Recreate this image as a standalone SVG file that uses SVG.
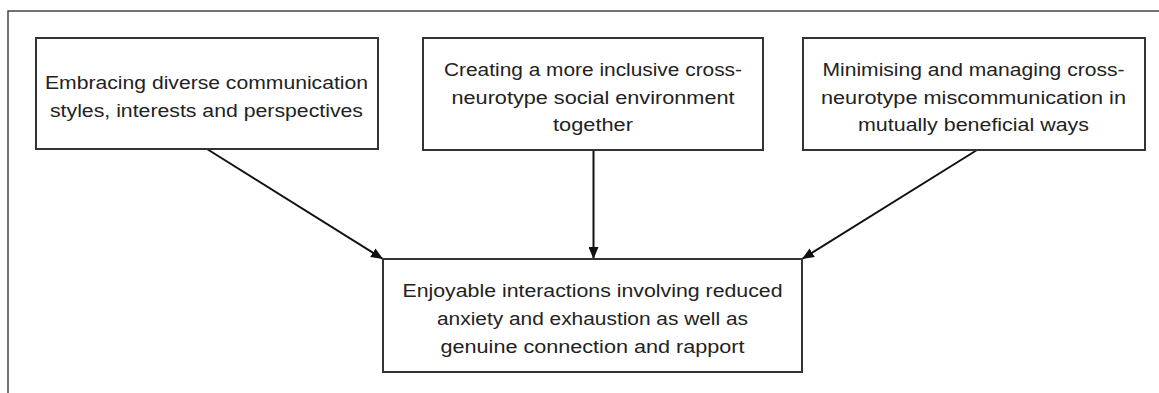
<svg xmlns="http://www.w3.org/2000/svg" width="1159" height="393" viewBox="0 0 1159 393">
<defs>
<style>
.box{fill:#fff;stroke:#333;stroke-width:2}
.t{font-family:"Liberation Sans",Arial,sans-serif;font-size:17.5px;fill:#222;text-anchor:middle}
.c{stroke:#111;stroke-width:2;fill:none}
</style>
<marker id="ah" viewBox="0 0 12 10" refX="12" refY="5" markerWidth="12" markerHeight="10" markerUnits="userSpaceOnUse" orient="auto">
<path d="M0,0 L12,5 L0,10 Z" fill="#111"/>
</marker>
</defs>
<rect width="1159" height="393" fill="#fff"/>
<g id="frame">
<path d="M8,393 V11 H1159" fill="none" stroke="#444" stroke-width="1.5"/>
</g>
<g id="connectors">
<line class="c" x1="207" y1="149" x2="383" y2="259" marker-end="url(#ah)"/>
<line class="c" x1="593.5" y1="150" x2="593.5" y2="259" marker-end="url(#ah)"/>
<line class="c" x1="977" y1="150" x2="802" y2="259" marker-end="url(#ah)"/>
</g>
<g id="node1">
<rect class="box" x="36" y="38" width="342" height="111"/>
<text class="t" x="206.5" y="89" textLength="323" lengthAdjust="spacingAndGlyphs">Embracing diverse communication</text>
<text class="t" x="206.5" y="117" textLength="313" lengthAdjust="spacingAndGlyphs">styles, interests and perspectives</text>
</g>
<g id="node2">
<rect class="box" x="423" y="38" width="340" height="112"/>
<text class="t" x="593" y="76" textLength="298" lengthAdjust="spacingAndGlyphs">Creating a more inclusive cross-</text>
<text class="t" x="593" y="103.5" textLength="283" lengthAdjust="spacingAndGlyphs">neurotype social environment</text>
<text class="t" x="593" y="131" textLength="80" lengthAdjust="spacingAndGlyphs">together</text>
</g>
<g id="node3">
<rect class="box" x="803" y="38" width="342" height="112"/>
<text class="t" x="973.5" y="76" textLength="302" lengthAdjust="spacingAndGlyphs">Minimising and managing cross-</text>
<text class="t" x="973.5" y="103.5" textLength="305" lengthAdjust="spacingAndGlyphs">neurotype miscommunication in</text>
<text class="t" x="973.5" y="131" textLength="231" lengthAdjust="spacingAndGlyphs">mutually beneficial ways</text>
</g>
<g id="node4">
<rect class="box" x="383" y="259" width="419" height="113"/>
<text class="t" x="592.5" y="297" textLength="380" lengthAdjust="spacingAndGlyphs">Enjoyable interactions involving reduced</text>
<text class="t" x="592.5" y="325" textLength="311" lengthAdjust="spacingAndGlyphs">anxiety and exhaustion as well as</text>
<text class="t" x="592.5" y="353" textLength="304" lengthAdjust="spacingAndGlyphs">genuine connection and rapport</text>
</g>
</svg>
